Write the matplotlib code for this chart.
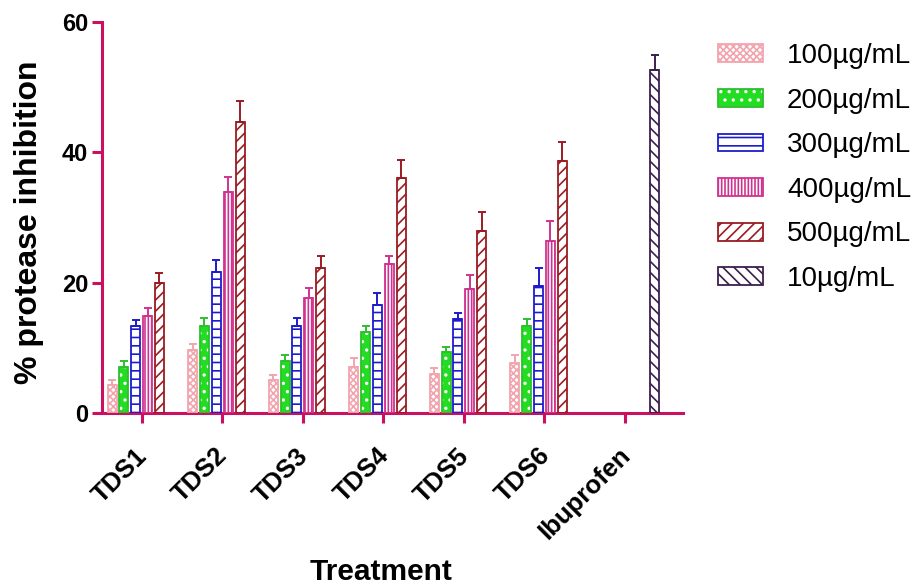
import matplotlib
matplotlib.use("Agg")
import matplotlib.pyplot as plt
import matplotlib.transforms as mtransforms
import numpy as np
from matplotlib.patches import Patch

plt.rcParams['font.family'] = ['Liberation Sans', 'DejaVu Sans']
plt.rcParams['hatch.linewidth'] = 1.2

categories = ["TDS1", "TDS2", "TDS3", "TDS4", "TDS5", "TDS6", "Ibuprofen"]
series_labels = ["100µg/mL", "200µg/mL", "300µg/mL", "400µg/mL", "500µg/mL", "10µg/mL"]

v100 = [4.3, 9.6, 5.1, 7.1, 6.0, 7.7]
e100 = [0.8, 1.0, 0.7, 1.4, 0.9, 1.2]
v200 = [7.1, 13.3, 8.0, 12.5, 9.4, 13.3]
e200 = [0.9, 1.3, 0.9, 0.8, 0.7, 1.2]
v300 = [13.4, 21.7, 13.3, 16.5, 14.4, 19.5]
e300 = [0.9, 1.8, 1.3, 1.9, 1.0, 2.8]
v400 = [14.9, 33.9, 17.7, 22.9, 19.0, 26.4]
e400 = [1.2, 2.3, 1.5, 1.2, 2.2, 3.0]
v500 = [19.9, 44.7, 22.2, 36.0, 27.9, 38.7]
e500 = [1.6, 3.2, 1.9, 2.9, 3.0, 2.9]
v_ibu = [52.7]
e_ibu = [2.2]

yticks = [0, 20, 40, 60]

# styles: (face, hatch colour, edge colour, hatch)
styles = [
    ("white", "#f2a5ae", "#f2a5ae", "xxxxx"),
    ("#22dd22", "white", "#2fbf2f", ".."),
    ("white", "#1c1ccc", "#1c1ccc", "--"),
    ("white", "#d0338f", "#d0338f", "|||||"),
    ("white", "#9a1c22", "#9a1c22", "///"),
    ("white", "#3b1f4f", "#3b1f4f", "\\\\\\"),
]

axis_col = "#cc1060"

fig = plt.figure(figsize=(9.24, 5.87), dpi=100)
ax = fig.add_axes([102/924, 1-413/587, (683-102)/924, (413-22)/587])

slot = 0.147
bw = 0.112

data = [(v100, e100), (v200, e200), (v300, e300), (v400, e400), (v500, e500)]
tds_x = np.arange(6)

def draw(xs, vals, errs, st):
    face, hcol, ecol, hatch = st
    ax.bar(xs, vals, width=bw, color=face, edgecolor=hcol, hatch=hatch, linewidth=0, zorder=2)
    ax.bar(xs, vals, width=bw, fill=False, edgecolor=ecol, linewidth=1.3, zorder=3)
    ax.errorbar(xs, vals, yerr=[np.zeros(len(vals)), errs], fmt='none', ecolor=ecol,
                elinewidth=1.4, capsize=3, capthick=1.4, zorder=4)

for i, (vals, errs) in enumerate(data):
    draw(tds_x + (i - 2.5) * slot, vals, errs, styles[i])
draw(np.array([6]) + 2.5 * slot, v_ibu, e_ibu, styles[5])

ax.set_xlim(-0.493, 6.72)
ax.set_ylim(0, 60)
ax.set_yticks(yticks)
ax.set_xticks(np.arange(len(categories)))

for s in ['top', 'right']:
    ax.spines[s].set_visible(False)
for s in ['left', 'bottom']:
    ax.spines[s].set_color(axis_col)
    ax.spines[s].set_linewidth(2.2)
ax.tick_params(axis='both', colors=axis_col, width=2.2, length=7, labelcolor='black')
ax.tick_params(axis='x', pad=15)
ax.tick_params(axis='y', pad=3)

ax.set_xticklabels(categories, rotation=45, ha='right', va='top', rotation_mode='anchor',
                   fontsize=18.5, fontweight='bold')
shift = mtransforms.ScaledTranslation(-7/100, 0, fig.dpi_scale_trans)
for lab in ax.get_xticklabels():
    lab.set_transform(lab.get_transform() + shift)
for lab in ax.get_yticklabels():
    lab.set_fontsize(17)
    lab.set_fontweight('bold')

ax.set_ylabel("% protease inhibition", fontsize=23, fontweight='bold')
ax.yaxis.set_label_coords(-0.100, 0.488)
ax.set_xlabel("Treatment", fontsize=21.5, fontweight='bold')
ax.xaxis.set_label_coords(0.480, -0.372)

handles = []
for face, hcol, ecol, hatch in styles:
    p1 = Patch(facecolor=face, edgecolor=hcol, hatch=hatch, linewidth=0)
    p2 = Patch(fill=False, edgecolor=ecol, linewidth=1.3)
    handles.append((p1, p2))

fig.legend(handles, series_labels, loc='upper left', bbox_to_anchor=(718/924, 1-43/587),
           frameon=False, fontsize=20, handlelength=1.62, handleheight=0.61,
           handletextpad=0.86, labelspacing=0.67, borderpad=0, borderaxespad=0)

fig.savefig("out.png", dpi=100)
